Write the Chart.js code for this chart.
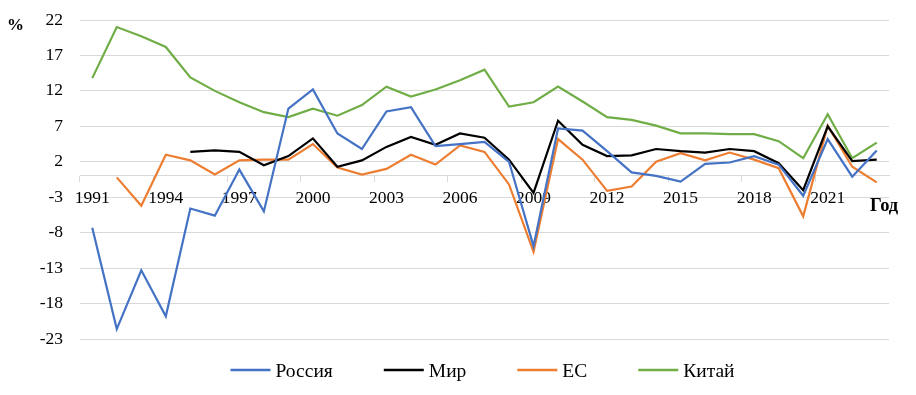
<!DOCTYPE html>
<html><head><meta charset="utf-8">
<script src="https://cdn.jsdelivr.net/npm/chart.js@4/dist/chart.umd.min.js"></script>
<style>html,body{margin:0;padding:0;background:#fff;}#wrap{width:916px;height:395px;}</style>
</head><body><div id="wrap"><canvas id="c" width="916" height="395"></canvas></div>
<script>
const years = [1991,1992,1993,1994,1995,1996,1997,1998,1999,2000,2001,2002,2003,2004,2005,2006,2007,2008,2009,2010,2011,2012,2013,2014,2015,2016,2017,2018,2019,2020,2021,2022,2023];
const russia = [-7.3,-21.6,-13.3,-19.8,-4.6,-5.6,0.9,-5.0,9.5,12.2,6.0,3.8,9.1,9.7,4.2,4.5,4.8,2.0,-9.9,6.7,6.4,3.5,0.5,0.0,-0.8,1.7,1.9,2.8,1.6,-2.8,5.2,-0.1,3.6];
const world = [null,null,null,null,3.4,3.6,3.4,1.5,2.8,5.3,1.3,2.2,4.1,5.5,4.4,6.0,5.4,2.3,-2.4,7.8,4.4,2.8,2.9,3.8,3.5,3.3,3.8,3.5,1.8,-2.0,7.0,2.1,2.3];
const eu = [null,-0.2,-4.2,3.0,2.2,0.2,2.2,2.3,2.3,4.5,1.2,0.2,1.0,3.0,1.6,4.3,3.4,-1.2,-10.7,5.2,2.3,-2.1,-1.5,2.0,3.2,2.2,3.3,2.3,1.1,-5.7,7.1,1.3,-0.9];
const china = [13.8,21.0,19.7,18.2,13.9,12.0,10.4,9.0,8.3,9.5,8.5,10.0,12.6,11.2,12.2,13.5,15.0,9.8,10.4,12.6,10.5,8.3,7.9,7.1,6.0,6.0,5.9,5.9,4.9,2.5,8.7,2.5,4.7];
const seriesNames = ['Россия','Мир','ЕС','Китай'];
const yTicks = [-23,-18,-13,-8,-3,2,7,12,17,22];
const yUnit = '%';
const xTitle = 'Год';

const colors = ['#4472C4','#000000','#ED7D31','#70AD47'];
const FONT = '"Liberation Serif","Times New Roman",serif';

const customLegend = {
  id: 'customLegend',
  afterDraw(chart) {
    const ctx = chart.ctx;
    const ca = chart.chartArea;
    ctx.save();
    ctx.font = '19.5px ' + FONT;
    ctx.textBaseline = 'middle';
    ctx.fillStyle = '#000';
    const lineW = 40, gapT = 5, gapI = 51;
    const widths = chart.data.datasets.map(d => lineW + gapT + ctx.measureText(d.label).width);
    const total = widths.reduce((a,b)=>a+b,0) + gapI*(widths.length-1);
    let x = (ca.left + ca.right)/2 - total/2 - 2;
    const y = ca.bottom + 33;
    chart.data.datasets.forEach((d,i) => {
      ctx.strokeStyle = d.borderColor;
      ctx.lineWidth = 2.5;
      ctx.beginPath(); ctx.moveTo(x, y-2); ctx.lineTo(x+lineW, y-2); ctx.stroke();
      ctx.fillText(d.label, x+lineW+gapT, y);
      x += widths[i] + gapI;
    });
    ctx.textAlign = 'left';
    ctx.font = 'bold 17px ' + FONT;
    ctx.fillText(yUnit, 7, ca.top + 6);
    ctx.font = 'bold 18.5px ' + FONT;
    const y0 = chart.scales.y.getPixelForValue(0);
    ctx.fillText(xTitle, ca.right - 19, y0 + 30);
    ctx.restore();
  }
};

new Chart(document.getElementById('c'), {
  type: 'line',
  data: {
    labels: years.map(String),
    datasets: [russia, world, eu, china].map((arr,i) => ({
      label: seriesNames[i], data: arr, borderColor: colors[i], backgroundColor: colors[i],
      borderWidth: 2.2, pointRadius: 0, tension: 0, spanGaps: false, fill: false
    }))
  },
  options: {
    responsive: false, animation: false,
    layout: { padding: { left: 0, right: 27, top: 20, bottom: 56 } },
    plugins: { legend: { display: false }, tooltip: { enabled: false } },
    scales: {
      x: {
        position: { y: 0 },
        offset: true,
        afterFit: s => { s.paddingLeft = 0; s.paddingRight = 0; s.paddingTop = 0; s.paddingBottom = 0; },
        grid: { offset: true, drawOnChartArea: false, drawTicks: true, tickLength: 6,
          color: c => (c.index % 3 === 0) ? '#d9d9d9' : 'rgba(0,0,0,0)' },
        border: { display: true, color: '#d9d9d9', width: 1 },
        ticks: { autoSkip: false, maxRotation: 0, padding: 6, color: '#000',
          font: { family: FONT, size: 17.5 },
          callback: function(v, i) { return i % 3 === 0 ? this.getLabelForValue(v) : ''; } }
      },
      y: {
        min: yTicks[0], max: yTicks[yTicks.length-1],
        afterBuildTicks: s => { s.ticks = yTicks.map(v => ({ value: v })); },
        afterFit: s => { s.width = 80; s.paddingTop = 0; s.paddingBottom = 0; },
        grid: { color: '#d9d9d9', drawTicks: false },
        border: { display: false },
        ticks: { padding: 17, color: '#000', font: { family: FONT, size: 17.5 } }
      }
    }
  },
  plugins: [customLegend]
});
</script></body></html>
